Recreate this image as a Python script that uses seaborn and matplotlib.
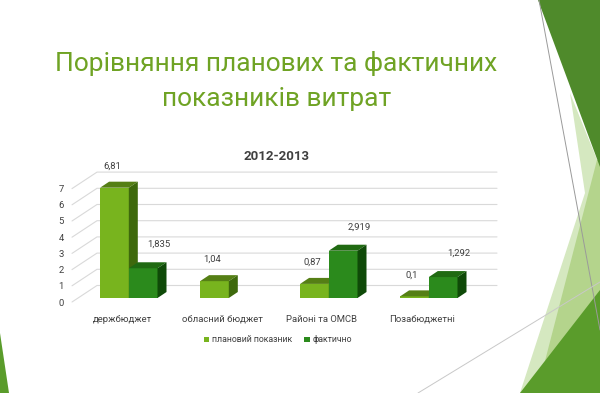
import numpy as np
import pandas as pd
import matplotlib
matplotlib.use('Agg')
import matplotlib.pyplot as plt
import seaborn as sns
from matplotlib.patches import Polygon
from matplotlib.lines import Line2D
from matplotlib.transforms import ScaledTranslation

# ---- data ----
categories = ['держбюджет', 'обласний бюджет', 'Районі та ОМСВ', 'Позабюджетні']
series = ['плановий показник', 'фактично']
planned = [6.81, 1.04, 0.87, 0.1]
actual = [1.835, np.nan, 2.919, 1.292]
yticks = [0, 1, 2, 3, 4, 5, 6, 7]
chart_title = '2012-2013'
slide_title = ['Порівняння планових та фактичних', 'показників витрат']

df = pd.DataFrame({
    'cat': categories * 2,
    'series': [series[0]] * len(categories) + [series[1]] * len(categories),
    'value': planned + actual,
})

sns.set_theme(style='white')
plt.rcParams['font.family'] = ['Roboto', 'DejaVu Sans']

W, H, DPI = 600, 393, 100
fig = plt.figure(figsize=(W / DPI, H / DPI), dpi=DPI)
fig.patch.set_facecolor('white')

def fx(px):
    return px / W

def fy(py):
    return 1 - py / H

# ---- decorative slide shapes ----
def poly(pts, color, z=0):
    fig.add_artist(Polygon([(fx(x), fy(y)) for x, y in pts], closed=True,
                           facecolor=color, edgecolor='none', transform=fig.transFigure,
                           zorder=z))

poly([(570, 93), (600, 167), (600, 393), (520, 393), (585, 193)], '#d5e8c0', z=0)
poly([(597, 160), (600, 160), (600, 300), (545, 361)], '#b4d48c', z=0.1)
poly([(538, 0), (600, 0), (600, 167)], '#4f8a2b', z=0.2)
poly([(520, 393), (600, 290), (600, 393)], '#5a9c2b', z=0.3)
poly([(0, 333), (9, 393), (0, 393)], '#5a9c2b', z=0.3)
fig.add_artist(Line2D([fx(539), fx(600)], [fy(0), fy(330)], color='#9a9a9a', lw=0.7,
                      transform=fig.transFigure, zorder=0.4))
fig.add_artist(Line2D([fx(418), fx(600)], [fy(393), fy(282)], color='#c8c8c8', lw=0.7,
                      transform=fig.transFigure, zorder=0.4))

# ---- titles ----
title_color = '#6fa324'
fig.text(fx(276.5), fy(63), slide_title[0], ha='center', va='center', fontsize=19,
         color=title_color)
fig.text(fx(277), fy(99), slide_title[1], ha='center', va='center', fontsize=19,
         color=title_color)
fig.text(fx(276.5), fy(157), chart_title, ha='center', va='center', fontsize=9.5,
         weight='bold', color='#404040')

# ---- chart ----
ax_left, ax_right, ax_y0 = 72, 472, 302
ppy = 16.2
ymax = 8
ax = fig.add_axes([fx(ax_left), fy(ax_y0), (ax_right - ax_left) / W, ymax * ppy / H])
ax.set_facecolor('none')

front_cols = ['#78b41e', '#2b8a1c']
top_cols = ['#557f15', '#206a12']
side_cols = ['#3e690c', '#0f4a08']

sns.barplot(data=df, x='cat', y='value', hue='series', hue_order=series,
            palette=front_cols, width=0.574, saturation=1, ax=ax, linewidth=0,
            errorbar=None)
ax.set_xlim(-0.5, len(categories) - 0.5)
ax.set_ylim(0, ymax)
ppx = (ax_right - ax_left) / len(categories)

# back wall gridlines + floor diagonals
gdx, gdy = 25 / ppx, 16.5 / ppy
for k in yticks:
    ax.add_line(Line2D([-0.5, -0.5 + gdx, len(categories) - 0.5 + gdx],
                       [k, k + gdy, k + gdy], color='#d9d9d9', lw=0.8,
                       zorder=0.5, clip_on=False))

# 3D bar faces
bar_shift = ScaledTranslation(6.8 / DPI, 4 / DPI, fig.dpi_scale_trans)
btrans = ax.transData + bar_shift
ddx, ddy = 9 / ppx, 6 / ppy
for p in list(ax.patches):
    h = p.get_height()
    if not np.isfinite(h) or p.get_width() <= 0:
        continue
    x0 = p.get_x()
    x1 = x0 + p.get_width()
    cx = (x0 + x1) / 2
    si = 0 if cx < round(cx) else 1
    z = 2 + si
    p.set_transform(btrans)
    p.set_zorder(z)
    p.set_clip_on(False)
    ax.add_patch(Polygon([(x0, h), (x1, h), (x1 + ddx, h + ddy), (x0 + ddx, h + ddy)],
                         closed=True, facecolor=top_cols[si], edgecolor='none',
                         transform=btrans, zorder=z + 0.1, clip_on=False))
    ax.add_patch(Polygon([(x1, 0), (x1, h), (x1 + ddx, h + ddy), (x1 + ddx, ddy)],
                         closed=True, facecolor=side_cols[si], edgecolor='none',
                         transform=btrans, zorder=z + 0.1, clip_on=False))
    off = (6.8 - 2.5, 4 + 21.5) if si == 0 else (6.8 + 16, 4 + 24)
    ax.annotate(f'{h:g}'.replace('.', ','), (cx, h), xytext=off,
                textcoords='offset pixels', ha='center', va='center',
                fontsize=6.8, color='#404040', zorder=5)

for s in ax.spines.values():
    s.set_visible(False)
ax.set_yticks(yticks)
ax.set_yticklabels([str(t) for t in yticks])
ax.set_xlabel('')
ax.set_ylabel('')
ax.tick_params(axis='both', length=0, labelsize=6.8, colors='#404040')
ax.tick_params(axis='y', pad=6)
ax.tick_params(axis='x', pad=9)

sns.move_legend(ax, 'center', bbox_to_anchor=(fx(278), fy(340)),
                bbox_transform=fig.transFigure, ncol=2, frameon=False, title=None,
                fontsize=6.3, handlelength=0.6, handleheight=0.6, handletextpad=0.3,
                columnspacing=1.4)
for t in ax.get_legend().get_texts():
    t.set_color('#404040')

fig.savefig('out.png', dpi=DPI)
